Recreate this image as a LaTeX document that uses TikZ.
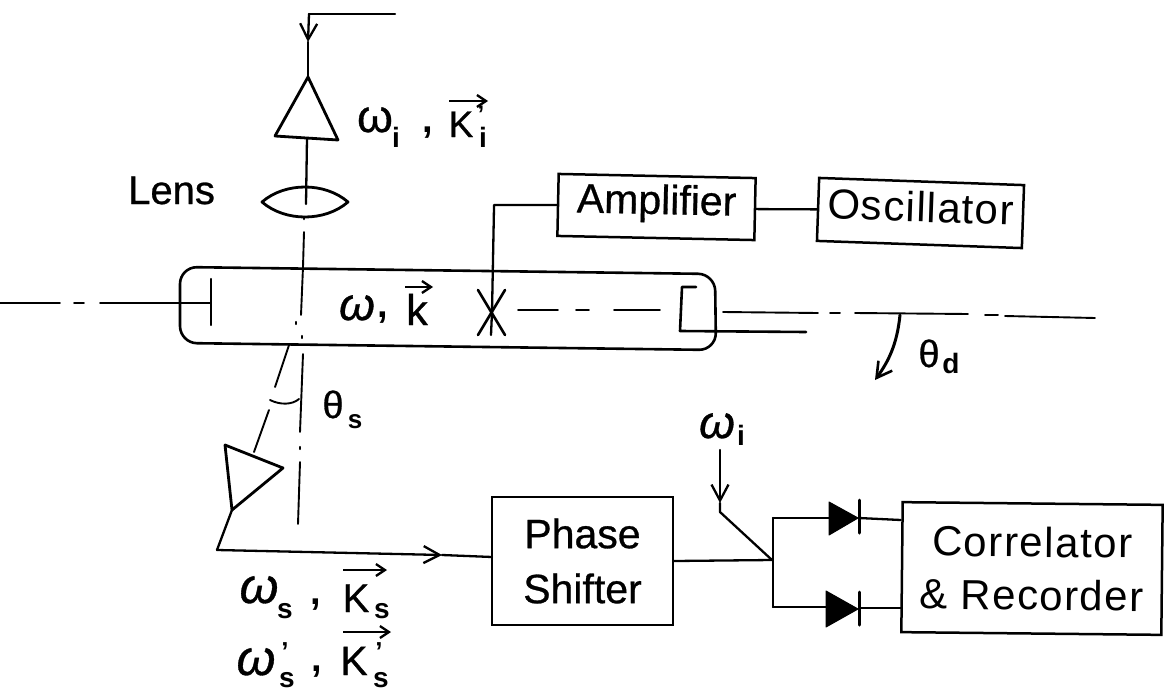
\documentclass[tikz,border=0pt]{standalone}
\usepackage{fontspec}
\setmainfont{Liberation Sans}
\usetikzlibrary{arrows.meta}
\newcommand{\fsz}[1]{\fontsize{#1}{#1}\selectfont\addfontfeature{FakeBold=0.7}}
\newcommand{\fsb}[1]{\fontsize{#1}{#1}\selectfont\bfseries}
\tikzset{
 wire/.style={line width=2.3pt,black,line cap=round,line join=round},
 thin wire/.style={line width=1.9pt,black,line cap=round},
 blockbox/.style={draw,line width=2.5pt,inner sep=0pt,align=center},
 lab/.style={inner sep=0pt,anchor=base},
 barb/.style={wire,-{Straight Barb[length=16pt,width=17pt,line width=2.3pt]}},
 vecarrow/.style={line width=2.3pt,-{Straight Barb[length=9pt,width=12pt,line width=2.3pt]}}
}
\begin{document}
\begin{tikzpicture}[x=1pt,y=-1pt]
\useasboundingbox (0,0) rectangle (1166,693);
% blocks
\node[blockbox,rotate=-1.2,minimum width=197pt,minimum height=62pt,text height=30pt,text depth=16pt,font=\fsz{41}] (amp) at (656.5,207) {Amplifier};
\node[blockbox,rotate=-2,minimum width=205pt,minimum height=63pt,text height=33pt,text depth=15pt,font=\fontsize{42}{42}\selectfont\addfontfeature{LetterSpace=3}] (osc) at (920.5,213) {Oscillator};
\node[blockbox,minimum width=181pt,minimum height=128pt,font={\fontsize{41}{55}\selectfont\addfontfeature{FakeBold=0.7}}] (ps) at (582.5,561) {Phase\\Shifter};
\node[blockbox,rotate=-0.6,minimum width=260pt,minimum height=130pt,font={\fontsize{42}{53}\selectfont\addfontfeature{LetterSpace=3.5}}] (cr) at (1032,568.5) {Correlator\\\& Recorder};
% named points
\coordinate (topEnd) at (395,14);
\coordinate (topCorner) at (309,14);
\coordinate (topTip) at (308,42);
\coordinate (apex) at (308,77);
\coordinate (prL) at (275,136);
\coordinate (prR) at (338,140);
\coordinate (prBase) at (307,138);
\coordinate (lensL) at (262,202);
\coordinate (lensR) at (348,202);
\coordinate (lensMid) at (306,204);
\coordinate (xTop) at (494,207);
\coordinate (xMid) at (492,312);
\coordinate (xEnd) at (491,335);
\coordinate (corner) at (217,550);
\coordinate (psIn) at (492,557);
\coordinate (psArrow) at (442,555);
\coordinate (horn) at (232,510);
\coordinate (hornL) at (225,445);
\coordinate (hornR) at (283,468);
\coordinate (junction) at (772,560);
\coordinate (switchTop) at (720,450);
\coordinate (switchTip) at (720,503);
\coordinate (switchEnd) at (720,512);
\coordinate (bTop) at (773,518);
\coordinate (bBot) at (773,607);
% input beam
\draw[wire] (topEnd) -- (topCorner);
\draw[barb] (topCorner) -- (topTip);
\draw[wire] (topTip) -- (apex);
\draw[wire,line width=2.8pt] (apex) -- (prL) -- (prR) -- cycle;
\draw[wire] (prBase) -- (lensMid);
\draw[wire,line width=2.8pt] (lensL) .. controls (285,182) and (325,182) .. (lensR) .. controls (325,222) and (285,222) .. (lensL) -- cycle;
\draw[wire,line width=2.6pt] (304,217) -- (304,219);
\draw[thin wire] (304,232) -- (303,267) -- (301,315);
\draw[wire] (296,322) -- (296,324);
\draw[wire] (302,336) -- (302,338);
% tube
\draw[wire,line width=2.6pt,rounded corners=17pt] (180,267) -- (715,274) -- (716,350) -- (180,343) -- cycle;
% axis
\draw[thin wire] (0,303) -- (60,303);
\draw[thin wire] (74,303) -- (84,303);
\draw[thin wire] (100,303) -- (211,303);
\draw[wire] (211,279) -- (211,325);
\draw[thin wire] (518,310) -- (558,310);
\draw[thin wire] (576,310) -- (589,310);
\draw[thin wire] (614,310) -- (660,310);
\draw[wire,line width=2.6pt] (696,287) -- (682,287) -- (680,331) -- (806,332);
\draw[thin wire] (723,312) -- (818,313);
\draw[thin wire] (830,313) -- (840,313);
\draw[thin wire] (855,313) -- (968,314);
\draw[thin wire] (985,315) -- (998,315);
\draw[thin wire] (1005,316) -- (1095,318);
% transducer
\draw[wire] (amp.west) -| (xTop) -- (xMid) -- (xEnd);
\draw[wire,line width=2.6pt] (478,290) -- (505,335) (505,290) -- (478,335);
\draw[wire] (amp.east) -- (osc.west);
% scattered beam
\draw[thin wire] (289,345) -- (275,387);
\draw[thin wire] (269,410) -- (254,452);
\draw[thin wire] (303,354) -- (300,432);
\draw[wire] (300,447) -- (300,449);
\draw[thin wire] (300,462) -- (298,524);
\draw[thin wire] (270,400) .. controls (280,405) and (292,405) .. (299,399);
\draw[wire,line width=2.8pt] (hornL) -- (hornR) -- (horn) -- cycle;
\draw[wire] (horn) -- (corner);
\draw[barb] (corner) -- (psArrow);
\draw[wire] (psArrow) -- (psIn);
% mixer
\draw[wire] (ps.east) -- (junction);
\draw[wire] (junction) -- (switchEnd) -- (switchTip);
\draw[barb] (switchTop) -- (switchTip);
\draw[wire] (bTop) -- (bBot);
\draw[wire] (bTop) -- (829,518);
\draw[wire] (bBot) -- (826,607);
\draw[wire,fill=black,line width=1pt] (829,502) -- (829,535) -- (858,518) -- cycle;
\draw[wire,fill=black,line width=1pt] (826,591) -- (826,627) -- (858,609) -- cycle;
\draw[wire,line width=3pt] (859,500) -- (859,533);
\draw[wire,line width=3pt] (859,592) -- (859,625);
\draw[wire] (859,518) -- (cr.west |- 859,520);
\draw[wire] (859,608) -- (cr.west |- 859,608);
% angle arrow
\draw[wire,line width=3pt,-{Straight Barb[length=15pt,width=17pt,line width=2.6pt]}] (900,315) .. controls (897,345) and (888,362) .. (875,380);
% labels
\node[lab,anchor=base west,font=\fsz{40}] (lens) at (128,204) {Lens};
\node[lab,font=\fsz{46}] (wi1) at (375,132) {ω};
\node[lab,font=\fsb{28}] (wi1s) at (396,147) {i};
\node[lab,font=\fsb{38}] (c1) at (428,132) {,};
\node[lab,font=\fsz{37}] (ki) at (461,137) {K};
\node[lab,font=\fsb{24}] (kip) at (481,122) {'};
\node[lab,font=\fsb{28}] (kis) at (483,147) {i};
\draw[vecarrow] (449,101) -- (488,101);
\node[lab,font=\fsz{46}\itshape] (w) at (357,320) {ω};
\node[lab,font=\fsb{38}] (c0) at (383,317) {,};
\node[lab,font=\fsz{43}] (k) at (417,325) {k};
\draw[vecarrow] (405,287) -- (433,287);
\node[lab,font=\fsz{38}] (td) at (929,367) {θ};
\node[lab,font=\fsb{28}] (tds) at (951,373) {d};
\node[lab,font=\fsz{38}] (ts) at (333,418) {θ};
\node[lab,font=\fsb{26}] (tss) at (355,428) {s};
\node[lab,font=\fsz{46}\itshape] (wi2) at (717,438) {ω};
\node[lab,font=\fsb{28}] (wi2s) at (741,445) {i};
\node[lab,font=\fsz{50}\itshape] (ws) at (259,603) {ω};
\node[lab,font=\fsb{28}] (wss) at (285,618) {s};
\node[lab,font=\fsb{38}] (c2) at (316,604) {,};
\node[lab,font=\fsz{40}] (ks) at (356,612) {K};
\node[lab,font=\fsb{28}] (kss) at (382,618) {s};
\draw[vecarrow] (343,570) -- (387,570);
\node[lab,font=\fsz{50}\itshape] (wsp) at (256,675) {ω};
\node[lab,font=\fsb{26}] (wspm) at (285,660) {'};
\node[lab,font=\fsb{28}] (wsps) at (287,687) {s};
\node[lab,font=\fsb{38}] (c3) at (317,671) {,};
\node[lab,font=\fsz{41}] (ksp) at (354,675) {K};
\node[lab,font=\fsb{26}] (kspm) at (379,660) {'};
\node[lab,font=\fsb{28}] (ksps) at (381,687) {s};
\draw[vecarrow] (343,632) -- (391,632);
\end{tikzpicture}
\end{document}
